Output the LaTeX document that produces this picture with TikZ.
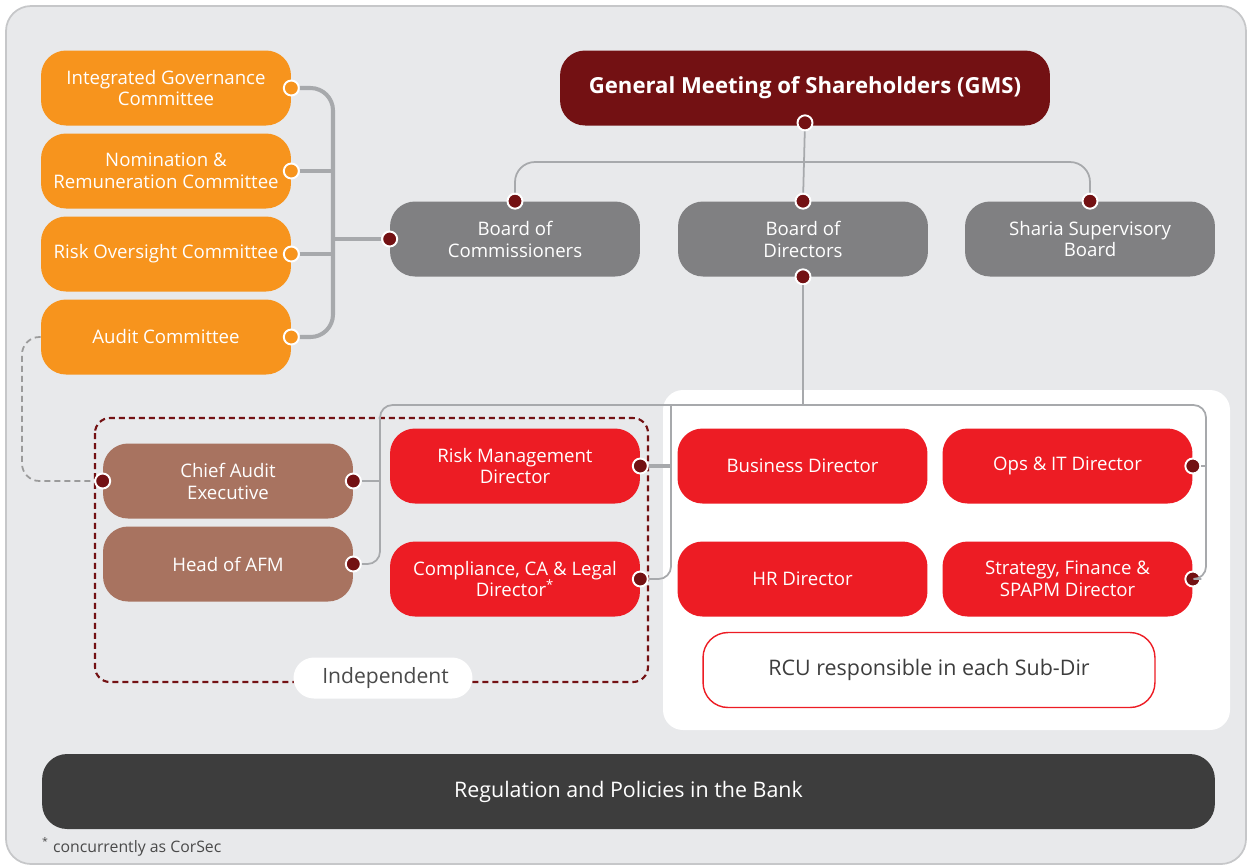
\documentclass[tikz,border=0pt]{standalone}
\usepackage{fontspec}
\setmainfont{Open Sans}
\usepackage{tikz}

\definecolor{pagebg}{HTML}{E8E9EB}
\definecolor{pageline}{HTML}{C6C7C9}
\definecolor{orangec}{HTML}{F7941D}
\definecolor{maroonc}{HTML}{731113}
\definecolor{boardc}{HTML}{808082}
\definecolor{brownc}{HTML}{A87360}
\definecolor{redc}{HTML}{ED1C24}
\definecolor{darkc}{HTML}{3D3D3D}
\definecolor{linkc}{HTML}{A7A9AC}
\definecolor{dashc}{HTML}{9B9B9B}
\definecolor{textc}{HTML}{4A4A4A}

\tikzset{
	box/.style={rounded corners=0.5cm, minimum width=5cm, minimum height=1.5cm,
		align=center, text=white, inner sep=2pt, font=\fontsize{10.6}{12.5}\selectfont},
	committee/.style={box, fill=orangec},
	board/.style={box, fill=boardc},
	audit/.style={box, fill=brownc},
	director/.style={box, fill=redc},
	dot/.style={circle, draw=white, line width=1.1pt, fill=maroonc, inner sep=0pt, minimum size=0.3cm},
	odot/.style={dot, fill=orangec},
	link/.style={draw=linkc, line width=1pt},
	thicklink/.style={draw=linkc, line width=2.3pt},
	dashlink/.style={draw=dashc, line width=1pt, dash pattern=on 0.12cm off 0.08cm}
}

\begin{document}
\begin{tikzpicture}[x=0.02cm, y=-0.02cm]
	\useasboundingbox (0,0) rectangle (1248,867);
	\filldraw[fill=pagebg, draw=pageline, line width=1pt, rounded corners=0.5cm] (6,6) rectangle (1246,864);
	\fill[white, rounded corners=0.4cm] (663,390) rectangle (1230,730);
	
	% committees
	\node[committee] (ig) at (166,88) {Integrated Governance\\Committee};
	\node[committee] (nr) at (166,171) {Nomination \&\\Remuneration Committee};
	\node[committee] (ro) at (166,254) {Risk Oversight Committee};
	\node[committee] (ac) at (166,337) {Audit Committee};
	
	% boards
	\node[box, fill=maroonc, minimum width=9.8cm, font=\fontsize{12.6}{14}\selectfont\bfseries] (gms) at (805,88) {General Meeting of Shareholders (GMS)};
	\node[board] (boc) at (515,239) {Board of\\Commissioners};
	\node[board] (bod) at (803,239) {Board of\\Directors};
	\node[board] (ss) at (1090,239) {Sharia Supervisory\\Board};
	
	% independent functions
	\draw[maroonc, line width=1.2pt, dash pattern=on 0.12cm off 0.08cm, rounded corners=0.3cm] (95,418) rectangle (648,682);
	\node[audit] (cae) at (228,481) {Chief Audit\\Executive};
	\node[audit] (afm) at (228,564) {Head of AFM};
	\node[director] (rm) at (515,466) {Risk Management\\Director};
	\node[director] (cl) at (515,579) {Compliance, CA \& Legal\\Director\textsuperscript{*}};
	\node[fill=white, rounded corners=0.41cm, minimum width=3.58cm, minimum height=0.82cm,
		text=textc, font=\fontsize{12}{14}\selectfont] (indep) at (383,678) {\hspace{0.1cm}Independent};
	
	% directors
	\node[director] (bus) at (802.5,466) {Business Director};
	\node[director] (oit) at (1067.5,466) {Ops \& IT Director};
	\node[director] (hr) at (802.5,579) {HR Director};
	\node[director] (sf) at (1067.5,579) {Strategy, Finance \&\\SPAPM Director};
	\node[draw=redc, line width=0.8pt, fill=white, rounded corners=0.5cm, minimum width=9.04cm,
		minimum height=1.5cm, text=darkc, font=\fontsize{12.2}{14}\selectfont] (rcu) at (929,670) {RCU responsible in each Sub-Dir};
	
	\node[fill=darkc, rounded corners=0.5cm, minimum width=23.46cm, minimum height=1.5cm,
		text=white, font=\fontsize{12.2}{14}\selectfont] (reg) at (628.5,791.5) {Regulation and Policies in the Bank};
	\node[anchor=west, text=textc, font=\fontsize{9}{10}\selectfont] (note) at (36,847) {\textsuperscript{*} concurrently as CorSec};
	
	% connector dots
	\node[odot] (igd) at (ig.east) {};
	\node[odot] (nrd) at (nr.east) {};
	\node[odot] (rod) at (ro.east) {};
	\node[odot] (acd) at (ac.east) {};
	\node[dot] (gmsd) at ([yshift=0.06cm]gms.south) {};
	\node[dot] (bocd) at (boc.west) {};
	\node[dot] (boctd) at (boc.north) {};
	\node[dot] (bodtd) at (bod.north) {};
	\node[dot] (bodbd) at (bod.south) {};
	\node[dot] (sstd) at (ss.north) {};
	\node[dot] (caed) at (cae.east) {};
	\node[dot] (caeld) at (cae.west) {};
	\node[dot] (afmd) at (afm.east) {};
	\node[dot] (rmd) at (rm.east) {};
	\node[dot] (cld) at (cl.east) {};
	\node[dot] (oitd) at (oit.east) {};
	\node[dot] (sfd) at (sf.east) {};
	
	\coordinate (spine) at (333,239);
	\coordinate (top) at (803,162);
	\coordinate (lrail) at (380,405);
	\coordinate (mrail) at (671,405);
	\coordinate (rrail) at (1206,405);
	\coordinate (arail) at (22,408);
	
	\path[thicklink, rounded corners=0.45cm] (igd) -| (spine) |- (acd);
	\path[thicklink] (nrd) -- (nrd -| spine);
	\path[thicklink] (rod) -- (rod -| spine);
	\path[thicklink] (spine) -- (bocd);
	
	\path[link] (gmsd) -- (bodtd);
	\path[link, rounded corners=0.4cm] (boctd) |- (top) -| (sstd);
	
	\path[link] (bodbd) -- (bodbd |- lrail);
	\path[link, rounded corners=0.25cm] (afmd) -| (lrail) -- (rrail) |- (sfd);
	\path[link, rounded corners=0.25cm] (mrail) |- (cld);
	\path[link] (caed) -- (caed -| lrail);
	\path[thicklink] (rmd) -- (rmd -| mrail);
	\path[link] (oitd) -- (oitd -| rrail);
	\path[dashlink, rounded corners=0.35cm] (ac.west) -| (arail) |- (caeld);
\end{tikzpicture}
\end{document}
